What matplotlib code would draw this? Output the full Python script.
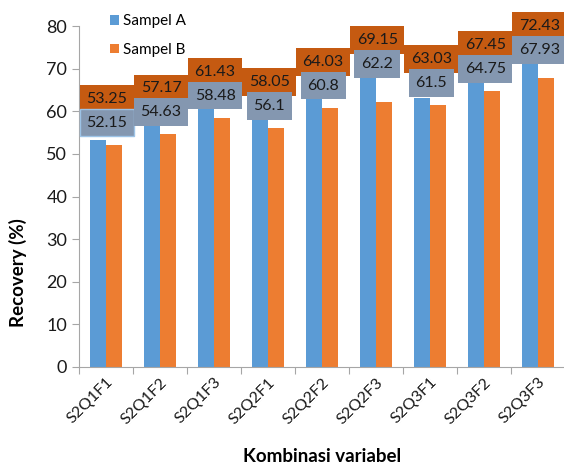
import matplotlib.pyplot as plt
import numpy as np

categories = ['S2Q1F1', 'S2Q1F2', 'S2Q1F3', 'S2Q2F1', 'S2Q2F2', 'S2Q2F3', 'S2Q3F1', 'S2Q3F2', 'S2Q3F3']
sampel_a = [53.25, 57.17, 61.43, 58.05, 64.03, 69.15, 63.03, 67.45, 72.43]
sampel_b = [52.15, 54.63, 58.48, 56.1, 60.8, 62.2, 61.5, 64.75, 67.93]

plt.rcParams['font.family'] = ['Lato', 'DejaVu Sans']

fig = plt.figure(figsize=(5.64, 4.68), dpi=100)
ax = fig.add_axes([0.140, 0.216, 0.862, 0.728])

x = np.arange(len(categories))
w = 0.29
ax.bar(x - w / 2, sampel_a, w, color='#5B9BD5', label='Sampel A')
ax.bar(x + w / 2, sampel_b, w, color='#ED7D31', label='Sampel B')

# value labels, stacked so the boxes don't cover each other
for i in range(len(categories)):
    yb = max(sampel_b[i] + 5.2, sampel_a[i] + 2)
    ya = max(sampel_a[i] + 7.6, yb + 5.6)
    ax.text(x[i] + 0.02, ya, str(sampel_a[i]), ha='center', va='center', fontsize=11.5,
            color='#1a1a1a', zorder=4, clip_on=False,
            bbox=dict(boxstyle='square,pad=0.42', fc='#C55A11', ec='none'))
    edge = '#9DC3E6' if i == 0 else 'none'
    ax.text(x[i] + 0.02, yb, str(sampel_b[i]), ha='center', va='center', fontsize=11.5,
            color='#1a1a1a', zorder=5, clip_on=False,
            bbox=dict(boxstyle='square,pad=0.42', fc='#8497B0', ec=edge, lw=1))

ax.set_xlim(-0.5, len(categories) - 0.5)
ax.set_ylim(0, 80)
ax.set_yticks(range(0, 81, 10))
ax.tick_params(axis='y', labelsize=13, length=5, color='#A6A6A6', labelcolor='#1a1a1a')

ax.set_xticks(np.arange(-0.5, len(categories), 1))
ax.set_xticklabels([])
ax.set_xticks(x, minor=True)
ax.set_xticklabels(categories, minor=True, rotation=45, ha='right', va='top',
                   rotation_mode='anchor', fontsize=11.5, color='#1a1a1a')
ax.tick_params(axis='x', which='major', length=5, color='#A6A6A6')
ax.tick_params(axis='x', which='minor', length=0, pad=6)

for s in ['top', 'right']:
    ax.spines[s].set_visible(False)
for s in ['left', 'bottom']:
    ax.spines[s].set_color('#A6A6A6')

ax.legend(loc='upper left', bbox_to_anchor=(0.035, 1.075), frameon=False, fontsize=11,
          handlelength=0.6, handleheight=0.6, handletextpad=0.3, labelspacing=0.95)

fig.text(0.032, 0.418, 'Recovery (%)', rotation=90, ha='center', va='center',
         fontsize=13.5, fontweight='bold')
fig.text(0.571, 0.024, 'Kombinasi variabel', ha='center', va='center',
         fontsize=13.5, fontweight='bold')

fig.savefig('out.png', dpi=100)
